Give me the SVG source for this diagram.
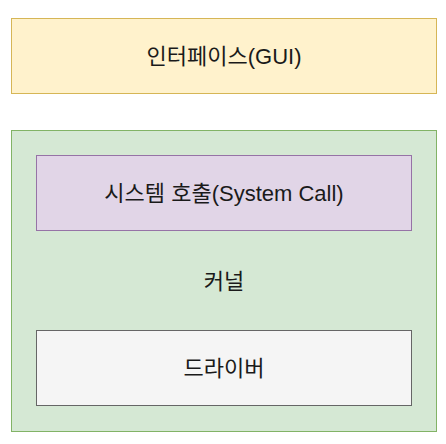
<svg xmlns="http://www.w3.org/2000/svg" width="446" height="444" viewBox="0 0 446 444">
<style>
text{font-family:"Liberation Sans","Noto Sans CJK KR",sans-serif;font-size:22px;fill:#1a1a1a;text-anchor:middle;dominant-baseline:central}
rect{stroke-width:1}
</style>
<rect width="446" height="444" fill="#ffffff"/>
<g id="gui">
<rect x="11.5" y="18.5" width="425" height="75" fill="#fff2cc" stroke="#d6b656"/>
<text x="224" y="56">인터페이스(GUI)</text>
</g>
<g id="kernel">
<rect x="11.5" y="130.5" width="425" height="301" fill="#d5e8d4" stroke="#82b366"/>
<text x="224" y="281">커널</text>
</g>
<g id="syscall">
<rect x="36.5" y="155.5" width="375" height="75" fill="#e1d5e7" stroke="#9673a6"/>
<text x="224" y="193">시스템 호출(System Call)</text>
</g>
<g id="driver">
<rect x="36.5" y="330.5" width="375" height="75" fill="#f5f5f5" stroke="#666666"/>
<text x="224" y="368">드라이버</text>
</g>
<g id="connectors"></g>
</svg>
